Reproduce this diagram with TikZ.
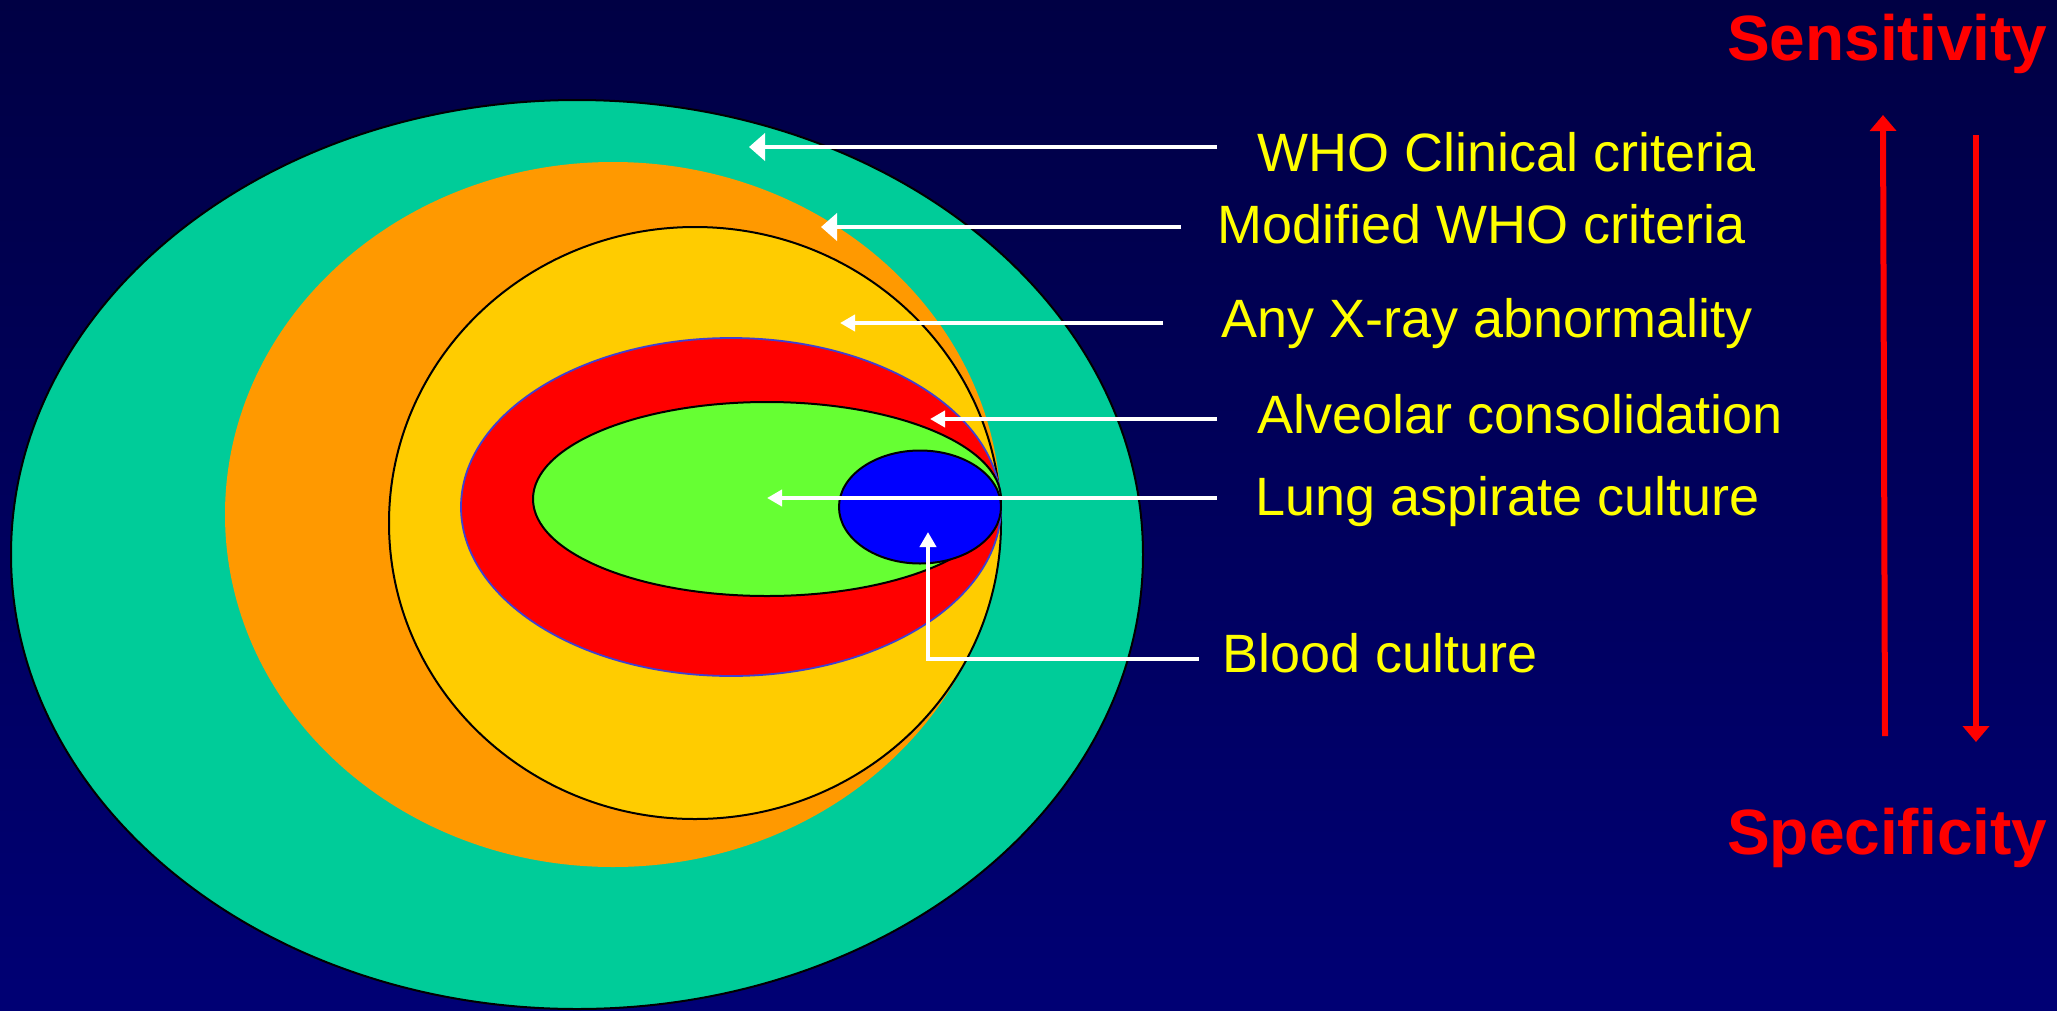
\documentclass[tikz,border=0pt]{standalone}
\usepackage{fontspec}
\setmainfont{Liberation Sans}
\usetikzlibrary{arrows.meta}
\definecolor{bgtop}{RGB}{0,0,68}
\definecolor{bgbot}{RGB}{0,0,116}
\definecolor{teal1}{RGB}{0,204,153}
\definecolor{orange1}{RGB}{255,153,0}
\definecolor{yellow1}{RGB}{255,204,0}
\definecolor{red1}{RGB}{255,0,0}
\definecolor{green1}{RGB}{102,255,51}
\definecolor{blue1}{RGB}{0,0,255}
\definecolor{rimblue}{RGB}{64,64,208}
\definecolor{txtyellow}{RGB}{255,255,0}
\tikzset{
  lbl/.style={anchor=base west, inner sep=0pt, text=txtyellow, font=\fontsize{54}{60}\selectfont},
  bigtitle/.style={anchor=base west, inner sep=0pt, text=red1, font=\fontsize{64}{70}\selectfont\bfseries},
  wbig/.style={draw=white, line width=4.5pt, -{Triangle[length=16pt,width=27pt]}},
  wsmall/.style={draw=white, line width=4.5pt, -{Triangle[length=15pt,width=16pt]}},
  redarrow/.style={draw=red1, line width=6pt, -{Triangle[length=16pt,width=26pt]}},
  rim/.style={line width=2pt}
}
\begin{document}
\begin{tikzpicture}[x=1pt,y=-1pt]
\useasboundingbox (0,0) rectangle (2057,1010);
\shade[top color=bgtop, bottom color=bgbot] (0,0) rectangle (2057,1010);
% nested regions
\fill[teal1, draw=black, rim] (577,554.5) ellipse [x radius=566pt, y radius=454.5pt];
\fill[orange1] (613,514.5) ellipse [x radius=388pt, y radius=352.5pt];
\fill[yellow1, draw=black, rim] (695,523) ellipse [x radius=306pt, y radius=296pt];
\fill[red1, draw=rimblue, line width=1.8pt] (731,507) ellipse [x radius=270pt, y radius=169pt];
\fill[green1, draw=black, rim] (767,499) ellipse [x radius=234pt, y radius=97pt];
\fill[blue1, draw=black, rim] (920,507) ellipse [x radius=81pt, y radius=56.5pt];
% labels
\node[lbl] (who) at (1257,171) {WHO Clinical criteria};
\node[lbl] (mod) at (1217,243) {Modified WHO criteria};
\node[lbl] (xray) at (1221,337) {Any X-ray abnormality};
\node[lbl] (alv) at (1257,433) {Alveolar consolidation};
\node[lbl] (lung) at (1255,515) {Lung aspirate culture};
\node[lbl] (blood) at (1222,672) {Blood culture};
\node[bigtitle] (sens) at (1727,60) {Sensitivity};
\node[bigtitle] (spec) at (1727,854) {Specificity};
% connector ends
\coordinate (whoS) at (1217,147);  \coordinate (whoT) at (749,147);
\coordinate (modS) at (1181,227);  \coordinate (modT) at (821,227);
\coordinate (xrayS) at (1163,323); \coordinate (xrayT) at (840,323);
\coordinate (alvS) at (1217,419);  \coordinate (alvT) at (930,419);
\coordinate (lungS) at (1217,498); \coordinate (lungT) at (767,498);
\coordinate (bloodS) at (1199,659); \coordinate (bloodC) at (928,659); \coordinate (bloodT) at (928,532);
\coordinate (upS) at (1885,736);  \coordinate (upT) at (1883,115);
\coordinate (dnS) at (1976,135);  \coordinate (dnT) at (1976,742);
% arrows
\draw[wbig] (whoS) -- (whoT);
\draw[wbig] (modS) -- (modT);
\draw[wsmall] (xrayS) -- (xrayT);
\draw[wsmall] (alvS) -- (alvT);
\draw[wsmall] (lungS) -- (lungT);
\draw[wsmall, line width=4pt] (bloodS) -- (bloodC) -- (bloodT);
\draw[redarrow] (upS) -- (upT);
\draw[redarrow] (dnS) -- (dnT);
\end{tikzpicture}
\end{document}
